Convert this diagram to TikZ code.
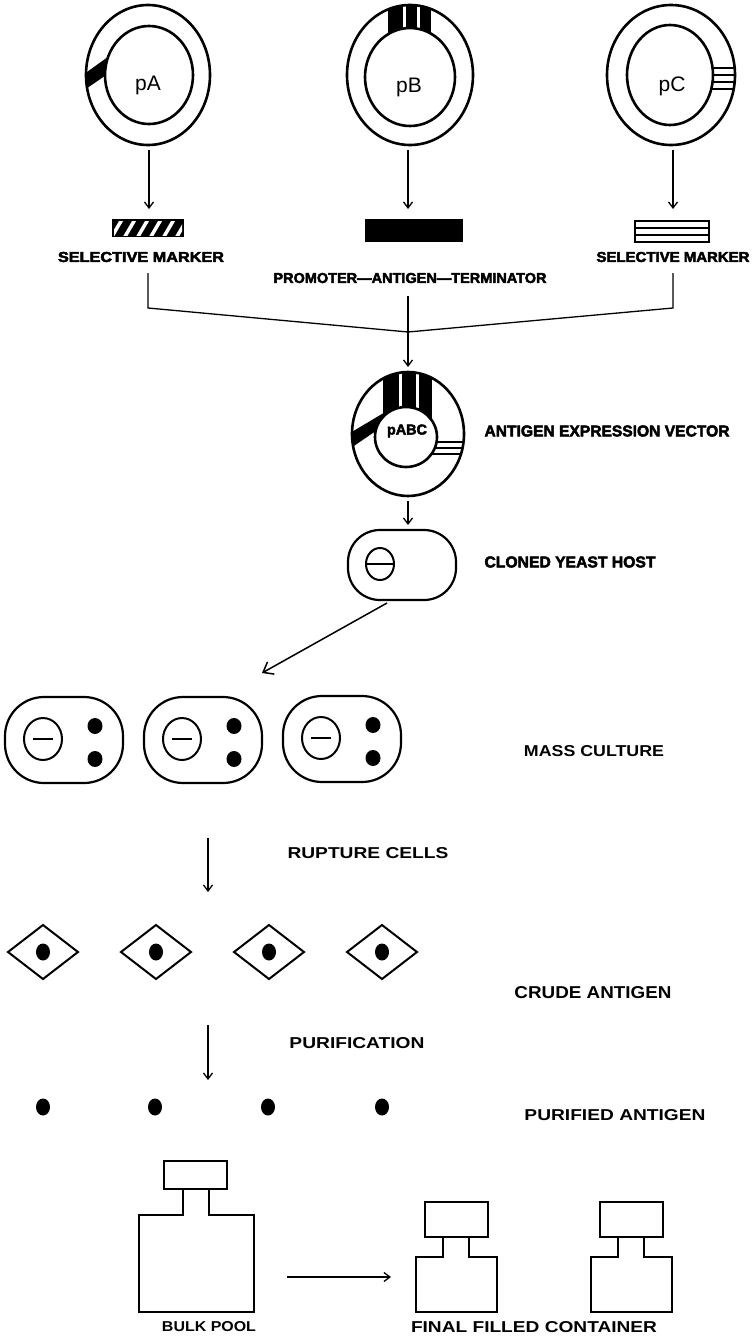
\documentclass[tikz,border=0pt]{standalone}
\usepackage{graphicx}
\usepackage{fontspec}
\setmainfont{Liberation Sans}
\newfontfamily\heavyfont{Liberation Sans}[BoldFeatures={FakeBold=3}]
\usetikzlibrary{arrows.meta}

% label scaled to a given width and cap height
\newcommand{\caplabel}[3]{\resizebox{#1pt}{#2pt}{#3}}

\begin{document}
\begin{tikzpicture}[x=1pt,y=-1pt,
  ring/.style={line width=2.6pt},
  link/.style={line width=1.3pt, line join=miter},
  flow/.style={line width=1.3pt,-{Straight Barb[length=6pt,width=9pt,line width=1.3pt]}},
  bigflow/.style={line width=1.5pt,-{Straight Barb[length=9pt,width=14pt,line width=1.5pt]}},
  cellwall/.style={line width=2.2pt, rounded corners=39pt},
  nucleus/.style={line width=2pt},
  crystal/.style={line width=2pt, line join=miter},
  bottle/.style={line width=1.9pt, line join=miter},
  heavy/.style={inner sep=0pt, font=\heavyfont\bfseries},
  plainlab/.style={inner sep=0pt, font=\bfseries},
  plasmidname/.style={inner sep=0pt, anchor=base, font=\fontsize{21}{21}\selectfont},
]
\useasboundingbox (0,0) rectangle (753,1336);

% ---------------- plasmid pA ----------------
\begin{scope}
  \clip (148,75) ellipse [x radius=62pt, y radius=70pt];
  \fill (80,77) -- (112,54) -- (112,71) -- (80,93) -- cycle;
\end{scope}
\draw[ring, fill=white] (149,75) ellipse [x radius=44pt, y radius=49pt];
\draw[ring] (148,75) ellipse [x radius=62pt, y radius=70pt];
\node[plasmidname] (pA) at (148,90) {pA};

% ---------------- plasmid pB ----------------
\begin{scope}
  \clip (410,75) ellipse [x radius=63pt, y radius=70pt];
  \fill (388,0) rectangle (431,45);
  \fill[white] (403,0) rectangle (406,45);
  \fill[white] (417,0) rectangle (420,45);
\end{scope}
\draw[ring, fill=white] (410,77) ellipse [x radius=45pt, y radius=49pt];
\draw[ring] (410,75) ellipse [x radius=63pt, y radius=70pt];
\node[plasmidname] (pB) at (409,92) {pB};

% ---------------- plasmid pC ----------------
\begin{scope}
  \clip (671,75) ellipse [x radius=64pt, y radius=70pt];
  \foreach \yy in {68,75,82,89} \draw[line width=1.3pt] (700,\yy) -- (740,\yy);
\end{scope}
\draw[ring, fill=white] (670,75) ellipse [x radius=43pt, y radius=50pt];
\draw[ring] (671,75) ellipse [x radius=64pt, y radius=70pt];
\node[plasmidname] (pC) at (672,91) {pC};

% ---------------- arrows to the fragments ----------------
\coordinate (pAout) at (149,150); \coordinate (mAin) at (149,209);
\coordinate (pBout) at (408,150); \coordinate (mBin) at (408,209);
\coordinate (pCout) at (673,150); \coordinate (mCin) at (673,209);
\draw[flow] (pAout) -- (mAin);
\draw[flow] (pBout) -- (mBin);
\draw[flow] (pCout) -- (mCin);

% hatched selective marker
\fill (112,219) rectangle (184,237);
\begin{scope}
  \clip (114,221) rectangle (182,235);
  \foreach \s in {0,...,5}
    \draw[white, line width=3.5pt] ({110+13*\s},240) -- ({124+13*\s},216);
\end{scope}
% promoter-antigen-terminator block
\fill (365,219) rectangle (463,242);
% striped selective marker
\draw[line width=1.4pt] (635,221) rectangle (709,242);
\draw[line width=1.4pt] (635,228) -- (709,228);
\draw[line width=1.4pt] (635,235) -- (709,235);

\node[heavy] (tA) at (141,257) {\caplabel{166}{10}{SELECTIVE MARKER}};
\node[heavy] (tB) at (410,278) {\caplabel{273}{10}{PROMOTER—ANTIGEN—TERMINATOR}};
\node[heavy] (tC) at (673,257) {\caplabel{153}{10}{SELECTIVE MARKER}};

% ---------------- joining the fragments ----------------
\coordinate (jL0) at (148,273); \coordinate (jL1) at (148,308);
\coordinate (jR0) at (673,273); \coordinate (jR1) at (673,308);
\coordinate (jC) at (408,332);
\coordinate (jT) at (408,296); \coordinate (jE) at (408,367);
\draw[link] (jL0) -- (jL1) -- (jC);
\draw[link] (jR0) -- (jR1) -- (jC);
\draw[flow] (jT) -- (jE);

% ---------------- expression vector pABC ----------------
\begin{scope}
  \clip (408,434) ellipse [x radius=56pt, y radius=62pt];
  \fill (383,360) rectangle (432,420);
  \fill[white] (399,360) rectangle (402,420);
  \fill[white] (416,360) rectangle (419,420);
  \fill (345,436) -- (392,408) -- (392,420) -- (345,452) -- cycle;
  \foreach \yy in {442,448,454} \draw[line width=1.2pt] (425,\yy) -- (470,\yy);
\end{scope}
\draw[ring, fill=white] (406,437) ellipse [x radius=31pt, y radius=30pt];
\draw[ring] (408,434) ellipse [x radius=56pt, y radius=62pt];
\node[heavy] (pABC) at (407,431) {\resizebox{40pt}{!}{pABC}};
\node[heavy] (tV) at (607,431) {\caplabel{245}{11}{ANTIGEN EXPRESSION VECTOR}};

% ---------------- cloned yeast host ----------------
\coordinate (vOut) at (408,501); \coordinate (hIn) at (408,525);
\draw[flow] (vOut) -- (hIn);
\draw[line width=2.2pt, rounded corners=32pt] (348,530) rectangle (456,600);
\draw[nucleus] (380,564) ellipse [x radius=14pt, y radius=16pt];
\draw[nucleus] (366,564) -- (394,564);
\node[heavy] (tH) at (570,562) {\caplabel{171}{11}{CLONED YEAST HOST}};

\coordinate (hOut) at (387,603); \coordinate (cIn) at (262,673);
\draw[bigflow] (hOut) -- (cIn);

% ---------------- mass culture ----------------
\foreach \cx/\cy in {64/740,203/740,342/739}{
  \draw[cellwall] ({\cx-59},{\cy-43}) rectangle ({\cx+59},{\cy+43});
  \draw[nucleus] ({\cx-21},{\cy-1}) ellipse [x radius=19pt, y radius=21pt];
  \draw[line width=2.4pt] ({\cx-31},{\cy-1}) -- ({\cx-11},{\cy-1});
  \fill ({\cx+31},{\cy-14}) ellipse [x radius=7.5pt, y radius=8pt];
  \fill ({\cx+31},{\cy+19}) ellipse [x radius=7.5pt, y radius=8pt];
}
\node[plainlab] (tM) at (594,751) {\caplabel{140}{11}{MASS CULTURE}};

% ---------------- rupture ----------------
\coordinate (rA) at (208,838); \coordinate (rB) at (208,892);
\draw[flow] (rA) -- (rB);
\node[plainlab] (tR) at (368,853) {\caplabel{161}{11}{RUPTURE CELLS}};

\foreach \dx in {43,156,269,382}{
  \draw[crystal] ({\dx-35},952) -- (\dx,925) -- ({\dx+35},952) -- (\dx,979) -- cycle;
  \fill (\dx,952) ellipse [x radius=7pt, y radius=8.5pt];
}
\node[plainlab] (tCr) at (593,993) {\caplabel{157}{12}{CRUDE ANTIGEN}};

% ---------------- purification ----------------
\coordinate (uA) at (208,1025); \coordinate (uB) at (208,1080);
\draw[flow] (uA) -- (uB);
\node[plainlab] (tP) at (357,1043) {\caplabel{135}{11}{PURIFICATION}};

\foreach \dx in {43,155,268,382}
  \fill (\dx,1107) ellipse [x radius=7pt, y radius=8.5pt];
\node[plainlab] (tPA) at (615,1115) {\caplabel{181}{11}{PURIFIED ANTIGEN}};

% ---------------- containers ----------------
% bulk pool
\draw[bottle] (164,1161) rectangle (227,1189);
\draw[bottle] (183,1189) -- (183,1215) -- (139,1215) -- (139,1312) -- (254,1312)
  -- (254,1215) -- (209,1215) -- (209,1189);
% final containers
\foreach \bx in {0,175}{
  \draw[bottle] ({425+\bx},1202) rectangle ({488+\bx},1237);
  \draw[bottle] ({443+\bx},1237) -- ({443+\bx},1257) -- ({416+\bx},1257)
    -- ({416+\bx},1312) -- ({497+\bx},1312) -- ({497+\bx},1257)
    -- ({469+\bx},1257) -- ({469+\bx},1237);
}
\coordinate (fA) at (287,1277); \coordinate (fB) at (391,1277);
\draw[flow] (fA) -- (fB);
\node[plainlab] (tBP) at (209,1327) {\caplabel{94}{10}{BULK POOL}};
\node[plainlab] (tF) at (534,1327) {\caplabel{246}{11}{FINAL FILLED CONTAINER}};
\end{tikzpicture}
\end{document}
